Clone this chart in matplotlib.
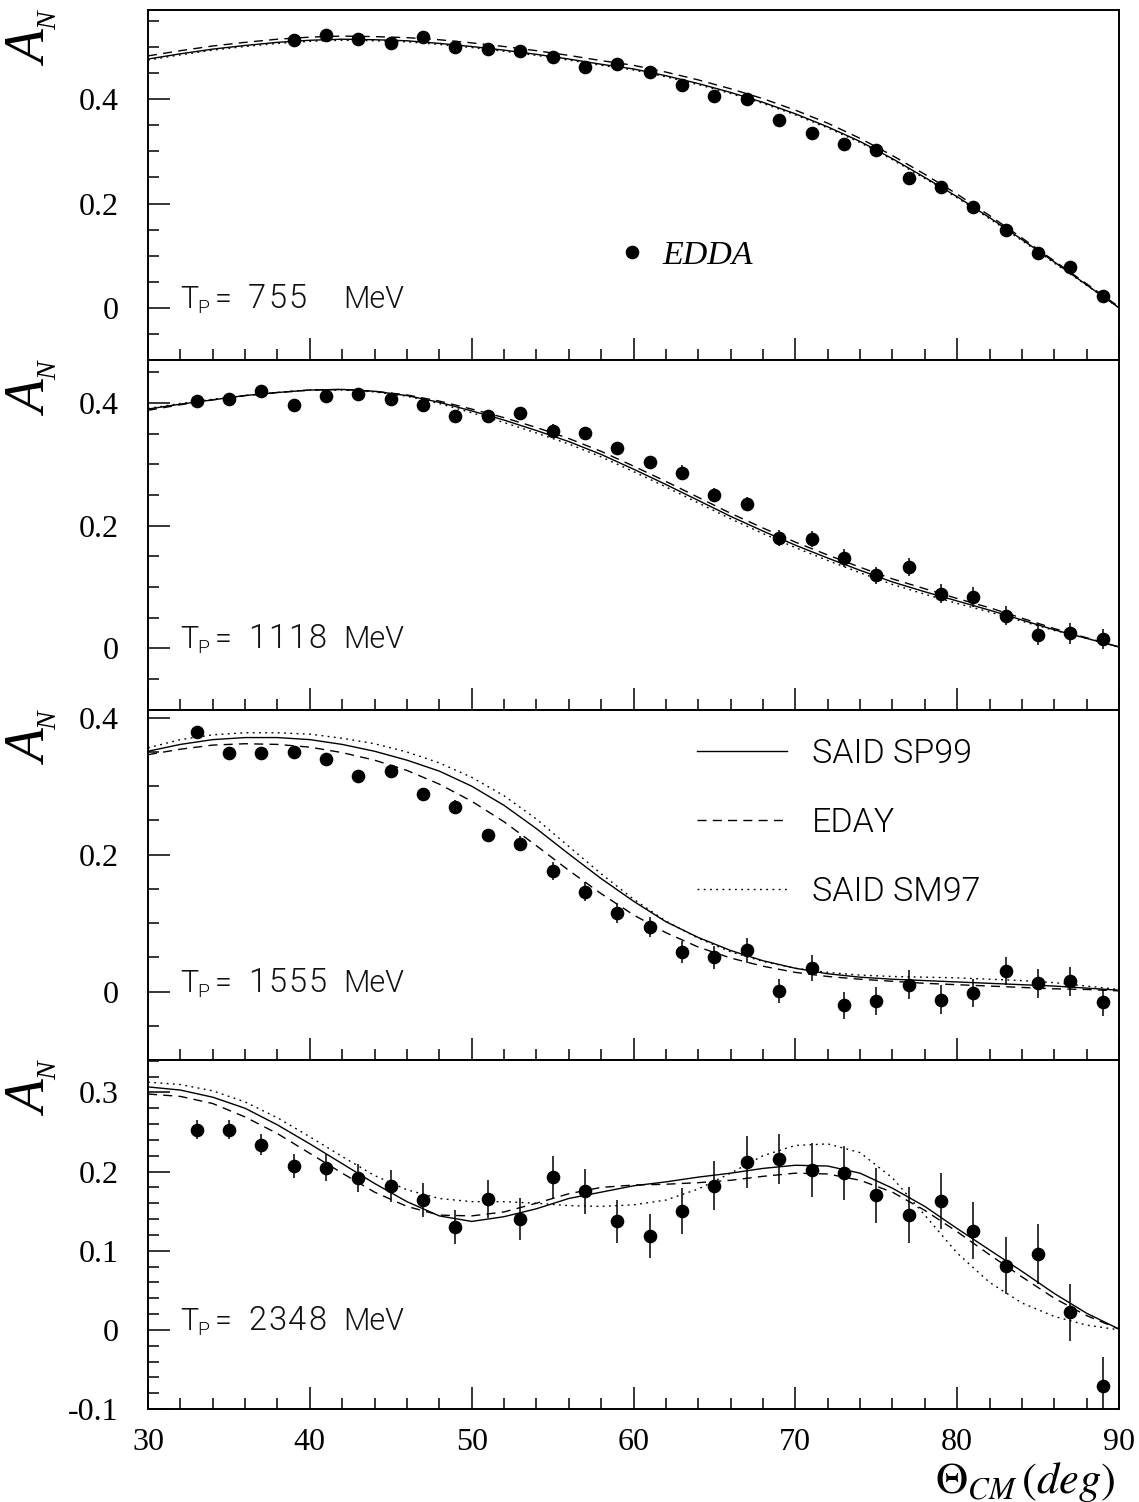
import matplotlib
matplotlib.use("Agg")
import matplotlib.pyplot as plt
from matplotlib.ticker import MultipleLocator, FuncFormatter
from matplotlib.lines import Line2D
from matplotlib import font_manager as fm

plt.rcParams["mathtext.fontset"] = "stix"

# ---------------------------------------------------------------- data
# angle grid of the partial-wave curves (deg)
theta_fit = [30, 32, 34, 36, 38, 40, 42, 44, 46, 48, 50, 52, 54, 56, 58, 60,
             62, 64, 66, 68, 70, 72, 74, 76, 78, 80, 82, 84, 86, 88, 90]

# --- T_p = 755 MeV
theta_755 = [39, 41, 43, 45, 47, 49, 51, 53, 55, 57, 59, 61, 63, 65, 67, 69,
             71, 73, 75, 77, 79, 81, 83, 85, 87, 89]
an_755 = [0.514, 0.523, 0.515, 0.507, 0.519, 0.500, 0.496, 0.493, 0.480, 0.461,
          0.468, 0.452, 0.427, 0.407, 0.401, 0.360, 0.335, 0.314, 0.302, 0.249,
          0.231, 0.193, 0.149, 0.105, 0.079, 0.023]
err_755 = [0.005] * 26
sp99_755 = [0.477, 0.487, 0.496, 0.503, 0.509, 0.513, 0.515, 0.514, 0.512, 0.507,
            0.501, 0.494, 0.486, 0.477, 0.467, 0.458, 0.445, 0.430, 0.413, 0.394,
            0.372, 0.347, 0.319, 0.286, 0.250, 0.213, 0.173, 0.131, 0.088, 0.044, 0.000]
eday_755 = [0.483, 0.493, 0.502, 0.509, 0.515, 0.519, 0.521, 0.520, 0.518, 0.514,
            0.508, 0.501, 0.493, 0.484, 0.474, 0.465, 0.452, 0.437, 0.420, 0.401,
            0.379, 0.354, 0.325, 0.292, 0.256, 0.218, 0.177, 0.134, 0.090, 0.046, 0.002]
sm97_755 = [0.475, 0.485, 0.494, 0.501, 0.507, 0.511, 0.513, 0.512, 0.510, 0.505,
            0.499, 0.492, 0.484, 0.475, 0.465, 0.456, 0.443, 0.428, 0.411, 0.392,
            0.370, 0.345, 0.317, 0.284, 0.248, 0.211, 0.171, 0.129, 0.086, 0.043, 0.000]

# --- T_p = 1118 MeV
theta_1118 = [33, 35, 37, 39, 41, 43, 45, 47, 49, 51, 53, 55, 57, 59, 61, 63,
              65, 67, 69, 71, 73, 75, 77, 79, 81, 83, 85, 87, 89]
an_1118 = [0.403, 0.406, 0.420, 0.397, 0.411, 0.414, 0.407, 0.396, 0.379, 0.378,
           0.384, 0.355, 0.351, 0.326, 0.303, 0.286, 0.250, 0.235, 0.180, 0.178,
           0.147, 0.119, 0.132, 0.089, 0.083, 0.053, 0.022, 0.024, 0.015]
err_1118 = [0.007, 0.007, 0.007, 0.007, 0.007, 0.007, 0.007, 0.007, 0.007, 0.008,
            0.008, 0.010, 0.010, 0.011, 0.011, 0.012, 0.012, 0.012, 0.013, 0.013,
            0.014, 0.014, 0.015, 0.015, 0.016, 0.016, 0.017, 0.017, 0.016]
sp99_1118 = [0.390, 0.398, 0.405, 0.412, 0.417, 0.421, 0.422, 0.419, 0.412, 0.401,
             0.387, 0.372, 0.355, 0.337, 0.316, 0.292, 0.267, 0.241, 0.215, 0.191,
             0.168, 0.147, 0.127, 0.108, 0.092, 0.077, 0.062, 0.046, 0.030, 0.016, 0.002]
eday_1118 = [0.388, 0.397, 0.405, 0.412, 0.417, 0.421, 0.422, 0.419, 0.413, 0.403,
             0.390, 0.376, 0.360, 0.342, 0.321, 0.297, 0.272, 0.246, 0.220, 0.196,
             0.173, 0.152, 0.132, 0.113, 0.097, 0.081, 0.066, 0.049, 0.032, 0.017, 0.002]
sm97_1118 = [0.391, 0.399, 0.406, 0.412, 0.417, 0.421, 0.421, 0.418, 0.411, 0.399,
             0.384, 0.368, 0.351, 0.333, 0.312, 0.288, 0.263, 0.237, 0.211, 0.187,
             0.164, 0.143, 0.123, 0.104, 0.088, 0.073, 0.059, 0.044, 0.029, 0.016, 0.002]

# --- T_p = 1555 MeV
theta_1555 = [33, 35, 37, 39, 41, 43, 45, 47, 49, 51, 53, 55, 57, 59, 61, 63,
              65, 67, 69, 71, 73, 75, 77, 79, 81, 83, 85, 87, 89]
an_1555 = [0.379, 0.349, 0.349, 0.350, 0.340, 0.315, 0.322, 0.288, 0.270, 0.228,
           0.216, 0.176, 0.146, 0.115, 0.094, 0.058, 0.050, 0.060, 0.001, 0.034,
           -0.020, -0.014, 0.010, -0.012, -0.002, 0.030, 0.012, 0.015, -0.016]
err_1555 = [0.006, 0.006, 0.006, 0.006, 0.006, 0.008, 0.008, 0.010, 0.010, 0.010,
            0.011, 0.013, 0.014, 0.015, 0.015, 0.016, 0.017, 0.018, 0.018, 0.019,
            0.020, 0.020, 0.021, 0.021, 0.021, 0.021, 0.021, 0.021, 0.020]
sp99_1555 = [0.351, 0.361, 0.368, 0.371, 0.371, 0.368, 0.361, 0.351, 0.338, 0.322,
             0.300, 0.272, 0.238, 0.201, 0.165, 0.132, 0.102, 0.079, 0.060, 0.045,
             0.034, 0.026, 0.021, 0.018, 0.016, 0.014, 0.012, 0.010, 0.008, 0.005, 0.002]
eday_1555 = [0.346, 0.354, 0.360, 0.362, 0.361, 0.357, 0.349, 0.338, 0.323, 0.303,
             0.278, 0.248, 0.213, 0.177, 0.143, 0.112, 0.086, 0.065, 0.049, 0.037,
             0.028, 0.022, 0.018, 0.015, 0.012, 0.010, 0.008, 0.006, 0.004, 0.003, 0.001]
sm97_1555 = [0.356, 0.368, 0.375, 0.378, 0.378, 0.376, 0.370, 0.362, 0.350, 0.334,
             0.313, 0.286, 0.252, 0.212, 0.172, 0.135, 0.103, 0.078, 0.058, 0.044,
             0.034, 0.028, 0.024, 0.022, 0.021, 0.020, 0.018, 0.016, 0.013, 0.008, 0.003]

# --- T_p = 2348 MeV
theta_2348 = [33, 35, 37, 39, 41, 43, 45, 47, 49, 51, 53, 55, 57, 59, 61, 63,
              65, 67, 69, 71, 73, 75, 77, 79, 81, 83, 85, 87, 89]
an_2348 = [0.253, 0.253, 0.234, 0.207, 0.205, 0.192, 0.182, 0.164, 0.130, 0.165,
           0.140, 0.193, 0.175, 0.137, 0.119, 0.150, 0.182, 0.212, 0.216, 0.202,
           0.198, 0.170, 0.145, 0.163, 0.125, 0.081, 0.096, 0.022, -0.071]
err_2348 = [0.012, 0.012, 0.013, 0.015, 0.017, 0.018, 0.020, 0.021, 0.021, 0.024,
            0.026, 0.027, 0.028, 0.027, 0.028, 0.029, 0.031, 0.033, 0.032, 0.034,
            0.034, 0.035, 0.035, 0.035, 0.036, 0.036, 0.038, 0.036, 0.037]
sp99_2348 = [0.307, 0.303, 0.294, 0.280, 0.259, 0.235, 0.210, 0.185, 0.162, 0.144,
             0.137, 0.143, 0.153, 0.166, 0.174, 0.182, 0.187, 0.193, 0.198, 0.204,
             0.208, 0.207, 0.198, 0.179, 0.156, 0.128, 0.101, 0.074, 0.046, 0.021, 0.001]
eday_2348 = [0.298, 0.295, 0.286, 0.269, 0.248, 0.223, 0.198, 0.174, 0.156, 0.145,
             0.144, 0.149, 0.160, 0.172, 0.180, 0.183, 0.184, 0.186, 0.189, 0.194,
             0.198, 0.197, 0.189, 0.174, 0.151, 0.124, 0.095, 0.067, 0.040, 0.018, 0.001]
sm97_2348 = [0.313, 0.310, 0.302, 0.288, 0.268, 0.244, 0.219, 0.195, 0.177, 0.166,
             0.162, 0.162, 0.160, 0.157, 0.156, 0.158, 0.164, 0.178, 0.198, 0.220,
             0.233, 0.235, 0.224, 0.192, 0.145, 0.097, 0.060, 0.034, 0.017, 0.006, 0.000]

energies = ["755", "1118", "1555", "2348"]
panel_ylims = [(-0.1, 0.571), (-0.1, 0.470), (-0.1, 0.412), (-0.1, 0.341)]
major_steps = [0.2, 0.2, 0.2, 0.1]
minor_steps = [0.05, 0.05, 0.05, 0.02]
x_ticks = [30, 40, 50, 60, 70, 80, 90]
curve_labels = ["SAID SP99", "EDAY", "SAID SM97"]
data_label = "EDDA"

panels = [
    (theta_755, an_755, err_755, sp99_755, eday_755, sm97_755),
    (theta_1118, an_1118, err_1118, sp99_1118, eday_1118, sm97_1118),
    (theta_1555, an_1555, err_1555, sp99_1555, eday_1555, sm97_1555),
    (theta_2348, an_2348, err_2348, sp99_2348, eday_2348, sm97_2348),
]


# ---------------------------------------------------------------- fonts
def _weight(entry):
    w = entry.weight
    if isinstance(w, str):
        w = fm.weight_dict.get(w, 400)
    return int(w)


def _light_font_file():
    for fam in ["Roboto", "Lato", "Open Sans", "Inter", "Noto Sans"]:
        entries = [f for f in fm.fontManager.ttflist
                   if f.name == fam and f.style == "normal" and f.stretch == "normal"
                   and _weight(f) in (200, 300)]
        if entries:
            entries.sort(key=lambda f: abs(_weight(f) - 300))
            return entries[0].fname
    return None


LIGHT_FILE = _light_font_file()


def thin(size):
    if LIGHT_FILE:
        fp = fm.FontProperties(fname=LIGHT_FILE)
    else:
        fp = fm.FontProperties(family="DejaVu Sans", weight="light")
    fp.set_size(size)
    return fp


SERIF = "Liberation Serif"
TXT = "#111111"

# ---------------------------------------------------------------- figure
W, H = 1139, 1502
fig = plt.figure(figsize=(W / 100, H / 100), dpi=100)

left_px, right_px = 148, 1119
edges_px = [10, 360, 709.5, 1060, 1409]
px_per_deg = (right_px - left_px) / 60.0


def px_to_deg(px):
    return 30 + (px - left_px) / px_per_deg


def tick_fmt(v, pos):
    s = "%g" % round(v, 3)
    return "0" if s in ("-0", "0") else s


axes = []
for i in range(4):
    top, bot = edges_px[i], edges_px[i + 1]
    ax = fig.add_axes([left_px / W, 1 - bot / H, (right_px - left_px) / W, (bot - top) / H])
    axes.append(ax)

    th, an, er, sp99, eday, sm97 = panels[i]
    ax.plot(theta_fit, sp99, color="black", lw=1.0, ls="-", label=curve_labels[0])
    ax.plot(theta_fit, eday, color="black", lw=1.0, ls=(0, (6.5, 4.5)), label=curve_labels[1])
    ax.plot(theta_fit, sm97, color="black", lw=1.0, ls=(0, (1.3, 3.2)), label=curve_labels[2])
    ax.errorbar(th, an, yerr=er, fmt="o", color="black", ms=8.8, elinewidth=1.1,
                capsize=0, zorder=5)

    ax.set_xlim(30, 90)
    ax.set_ylim(*panel_ylims[i])
    ax.xaxis.set_major_locator(MultipleLocator(10))
    ax.xaxis.set_minor_locator(MultipleLocator(2))
    ax.yaxis.set_major_locator(MultipleLocator(major_steps[i]))
    ax.yaxis.set_minor_locator(MultipleLocator(minor_steps[i]))
    ax.yaxis.set_major_formatter(FuncFormatter(tick_fmt))
    ax.set_xticks(x_ticks)

    ax.tick_params(which="both", direction="in", top=False, right=False,
                   left=True, bottom=True, width=1.1, color="black")
    ax.tick_params(which="major", length=16)
    ax.tick_params(which="minor", length=8)
    ax.tick_params(axis="y", which="major", labelsize=23, pad=21)
    ax.tick_params(axis="x", which="major", labelsize=23, pad=14)
    for lab in ax.get_yticklabels() + ax.get_xticklabels():
        lab.set_fontfamily(SERIF)
    if i < 3:
        ax.tick_params(labelbottom=False)
    for sp in ax.spines.values():
        sp.set_linewidth(1.4)

    # A_N axis title, drawn letter by letter to get the small subscript
    fig.text(33 / W, 1 - (top + 39) / H, "A", rotation=90, ha="center", va="center",
             family=SERIF, style="italic", size=40)
    fig.text(50 / W, 1 - (top + 11) / H, "N", rotation=90, ha="center", va="center",
             family=SERIF, style="italic", size=20)

    # beam energy tag: T with subscript P, the value on a fixed digit pitch, unit
    ax.text(px_to_deg(189), 0.0, "T", fontproperties=thin(22), ha="center",
            va="baseline", color=TXT)
    ax.annotate("P", xy=(px_to_deg(203.5), 0.0), xytext=(0, -3.6),
                textcoords="offset points", fontproperties=thin(14), ha="center",
                va="baseline", color=TXT)
    ax.text(px_to_deg(223), 0.0, "=", fontproperties=thin(22), ha="center",
            va="baseline", color=TXT)
    for k, ch in enumerate(energies[i]):
        ax.text(px_to_deg(257 + 20 * k), 0.0, ch, fontproperties=thin(23.5), ha="center",
                va="baseline", color=TXT)
    ax.text(px_to_deg(343), 0.0, "MeV", fontproperties=thin(22), ha="left",
            va="baseline", color=TXT)

axes[-1].set_xticklabels([str(v) for v in x_ticks])
for lab in axes[-1].get_xticklabels():
    lab.set_fontfamily(SERIF)

# data legend in the first panel
edda_handle = Line2D([], [], marker="o", ls="none", color="black", ms=8.8)
axes[0].legend([edda_handle], [data_label], loc="center left",
               bbox_to_anchor=((618.5 - left_px) / (right_px - left_px), (360 - 256) / 350),
               frameon=False, handlelength=0.8, handletextpad=0.5, borderpad=0,
               borderaxespad=0, prop={"family": SERIF, "style": "italic", "size": 24.5})

# model legend in the third panel
h_lines = axes[2].get_lines()[:3]
axes[2].legend(h_lines, curve_labels, loc="upper left",
               bbox_to_anchor=((697 - left_px) / (right_px - left_px), 0.918),
               frameon=False, handlelength=2.65, handletextpad=0.72, labelspacing=1.08,
               borderpad=0, borderaxespad=0, prop=thin(24.5))

# x axis title
fig.text(1116 / W, 1 - 1493 / H, r"$\Theta_{CM}\,(deg)$", ha="right", va="baseline",
         size=32)

fig.savefig("out.png", dpi=100)
